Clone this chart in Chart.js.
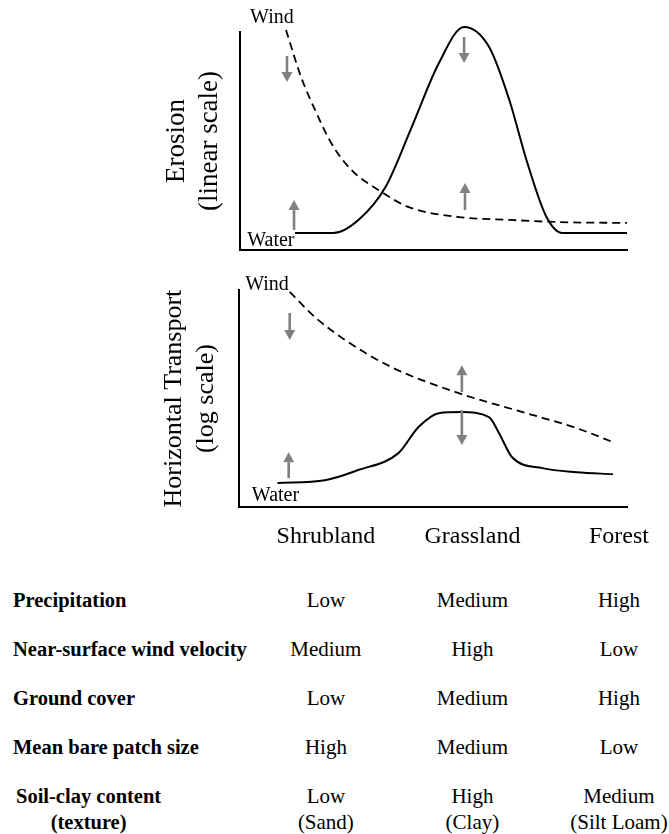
<!DOCTYPE html>
<html>
<head>
<meta charset="utf-8">
<script src="https://cdn.jsdelivr.net/npm/chart.js@4.4.0/dist/chart.umd.min.js"></script>
<style>
  html, body { margin: 0; padding: 0; background: #fff; }
  #page { position: relative; width: 669px; height: 834px; overflow: hidden;
          font-family: "Liberation Serif", "Times New Roman", serif; color: #000; }
  #page canvas { position: absolute; left: 0; }
  .cell { position: absolute; white-space: nowrap; line-height: 26px; text-align: center; }
  .lbl { font-weight: bold; font-size: 20.5px; }
  .val { font-size: 21px; transform: translateX(-50%); }
</style>
</head>
<body>
<div id="page">
  <canvas id="erosion" width="669" height="262" style="top:0"></canvas>
  <canvas id="transport" width="669" height="304" style="top:262px"></canvas>
</div>
<script>
var categories = ['Shrubland', 'Grassland', 'Forest'];

// top panel - erosion (linear scale), relative units
var erosionWindX  = [-0.275, -0.172, -0.076, 0.034, 0.172, 0.357, 0.564, 0.907, 1.251, 1.595, 2.055];
var erosionWindY  = [100.9, 79.4, 64.2, 49.1, 36.7, 27.5, 19.7, 15.1, 13.8, 12.8, 12.4];
var erosionWaterX = [-0.213, 0.048, 0.22, 0.405, 0.584, 0.77, 0.942, 1.113, 1.251, 1.368, 1.505, 1.615, 2.055];
var erosionWaterY = [7.8, 7.8, 13.8, 28.9, 56.4, 85.8, 102.3, 93.1, 68.8, 41.3, 15.1, 7.8, 7.8];

// bottom panel - horizontal transport (log scale)
var transportWindX  = [-0.247, -0.076, 0.131, 0.447, 0.907, 1.368, 1.711, 1.959];
var transportWindY  = [99.1, 87.6, 77.0, 64.5, 52.5, 43.3, 36.4, 30.0];
var transportWaterX = [-0.33, -0.007, 0.22, 0.495, 0.632, 0.77, 0.928, 1.113, 1.182, 1.271, 1.478, 1.711, 1.959];
var transportWaterY = [11.1, 12.4, 17.1, 24.9, 36.9, 43.3, 43.8, 41.5, 34.1, 23.0, 18.0, 16.1, 15.2];

// gray arrows: x, from, to
var erosionArrowX    = [-0.268, -0.22, 0.942, 0.948];
var erosionArrowFrom = [89.0, 9.2, 97.7, 18.3];
var erosionArrowTo   = [77.1, 22.9, 85.8, 30.7];
var transportArrowX    = [-0.247, -0.254, 0.928, 0.928];
var transportArrowFrom = [89.4, 13.4, 53.0, 44.7];
var transportArrowTo   = [77.0, 25.3, 65.4, 28.6];

// table below the charts
var rowLabels = [['Precipitation'], ['Near-surface wind velocity'], ['Ground cover'],
                 ['Mean bare patch size'], ['Soil-clay content', '(texture)']];
var shrublandValues = [['Low'], ['Medium'], ['Low'], ['High'], ['Low', '(Sand)']];
var grasslandValues = [['Medium'], ['High'], ['Medium'], ['Medium'], ['High', '(Clay)']];
var forestValues    = [['High'], ['Low'], ['High'], ['Low'], ['Medium', '(Silt Loam)']];

Chart.defaults.font.family = '"Liberation Serif", "Times New Roman", serif';
Chart.defaults.color = '#000';

function pts(xs, ys) {
    return xs.map(function (x, i) { return { x: x, y: ys[i] }; });
}

var annotate = {
    id: 'annotate',
    afterDatasetsDraw: function (chart, args, opts) {
        var ctx = chart.ctx, xs = chart.scales.x, ys = chart.scales.y;
        ctx.save();
        ctx.fillStyle = '#808080';
        ctx.strokeStyle = '#808080';
        ctx.lineWidth = 2.6;
        opts.arrowX.forEach(function (x, i) {
            var px = xs.getPixelForValue(x);
            var y0 = ys.getPixelForValue(opts.arrowFrom[i]);
            var y1 = ys.getPixelForValue(opts.arrowTo[i]);
            var dir = y1 > y0 ? 1 : -1, head = 10;
            ctx.beginPath();
            ctx.moveTo(px, y0);
            ctx.lineTo(px, y1 - dir * head);
            ctx.stroke();
            ctx.beginPath();
            ctx.moveTo(px - 5.5, y1 - dir * head);
            ctx.lineTo(px + 5.5, y1 - dir * head);
            ctx.lineTo(px, y1);
            ctx.closePath();
            ctx.fill();
        });
        ctx.fillStyle = '#000';
        ctx.font = '20px "Liberation Serif"';
        ctx.textAlign = 'center';
        ctx.textBaseline = 'middle';
        opts.labels.forEach(function (l) {
            ctx.fillText(l.text, xs.getPixelForValue(l.x), ys.getPixelForValue(l.y));
        });
        ctx.restore();
    }
};

function makeChart(id, wind, water, yTitle, titleSize, titlePad, showTicks, padding, annot) {
    return new Chart(document.getElementById(id), {
        type: 'line',
        data: {
            datasets: [{
                label: 'Wind',
                data: wind,
                borderColor: '#000',
                borderWidth: 1.8,
                borderDash: [8, 5],
                pointRadius: 0,
                cubicInterpolationMode: 'monotone',
                clip: false
            }, {
                label: 'Water',
                data: water,
                borderColor: '#000',
                borderWidth: 2,
                pointRadius: 0,
                cubicInterpolationMode: 'monotone',
                clip: false
            }]
        },
        options: {
            responsive: false,
            animation: false,
            layout: { padding: padding },
            plugins: { legend: { display: false }, tooltip: { enabled: false }, annotate: annot },
            scales: {
                x: {
                    type: 'linear',
                    min: -0.59,
                    max: 2.055,
                    afterBuildTicks: function (axis) {
                        axis.ticks = categories.map(function (c, i) { return { value: i }; });
                    },
                    ticks: {
                        display: showTicks,
                        autoSkip: false,
                        maxRotation: 0,
                        padding: 15,
                        font: { size: 24 },
                        callback: function (v) { return categories[v]; }
                    },
                    grid: { display: false, drawTicks: false },
                    border: { display: true, color: '#000', width: 2 }
                },
                y: {
                    min: 0,
                    max: 100,
                    ticks: { display: false },
                    grid: { display: false, drawTicks: false },
                    border: { display: true, color: '#000', width: 2 },
                    title: {
                        display: true,
                        text: yTitle,
                        font: { size: titleSize, lineHeight: 1.22 },
                        padding: titlePad
                    }
                }
            }
        },
        plugins: [annotate]
    });
}

makeChart('erosion', pts(erosionWindX, erosionWindY), pts(erosionWaterX, erosionWaterY),
    ['Erosion', '(linear scale)'], 27, { top: 10.5, bottom: 13.5 }, false,
    { left: 150, top: 32, right: 42, bottom: 12 },
    { arrowX: erosionArrowX, arrowFrom: erosionArrowFrom, arrowTo: erosionArrowTo,
      labels: [{ text: 'Wind', x: -0.371, y: 106.4 }, { text: 'Water', x: -0.378, y: 4.1 }] });

var transport = makeChart('transport', pts(transportWindX, transportWindY), pts(transportWaterX, transportWaterY),
    ['Horizontal Transport', '(log scale)'], 26, { top: 8.5, bottom: 17.5 }, true,
    { left: 150, top: 28, right: 42, bottom: 0 },
    { arrowX: transportArrowX, arrowFrom: transportArrowFrom, arrowTo: transportArrowTo,
      labels: [{ text: 'Wind', x: -0.402, y: 102.3 }, { text: 'Water', x: -0.344, y: 5.5 }] });

// table, columns aligned with the category ticks
var page = document.getElementById('page');
var columns = [shrublandValues, grasslandValues, forestValues];
function addCell(lines, cls, left, centerY) {
    var d = document.createElement('div');
    d.className = 'cell ' + cls;
    d.innerHTML = lines.join('<br>');
    d.style.left = left + 'px';
    d.style.top = (centerY - 13) + 'px';
    page.appendChild(d);
}
rowLabels.forEach(function (lines, r) {
    var cy = 600 + r * 49;
    addCell(lines, 'lbl', lines.length > 1 ? 16 : 13, cy);
    columns.forEach(function (col, c) {
        addCell(col[r], 'val', transport.scales.x.getPixelForValue(c), cy);
    });
});
</script>
</body>
</html>
